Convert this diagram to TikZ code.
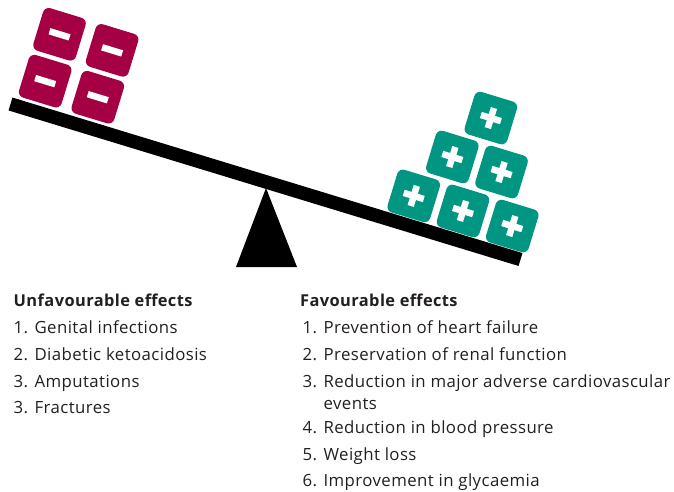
\documentclass[tikz,border=0pt]{standalone}
\usepackage{fontspec}
\setmainfont[LetterSpace=2.5]{Open Sans}
\usetikzlibrary{calc}
\definecolor{minusred}{RGB}{166,0,68}
\definecolor{plusgreen}{RGB}{0,150,130}
\definecolor{inktext}{RGB}{35,31,32}
% white signs set inside the tiles
\newcommand\minussign{\rule{21pt}{6.5pt}}
\newcommand\plussign{\makebox[21pt][l]{\rlap{\rule[7.25pt]{21pt}{6.5pt}}\hspace*{7.25pt}\rule{6.5pt}{21pt}}}
\begin{document}
\begin{tikzpicture}[x=1pt,y=-1pt,
  tile/.style={rectangle, rounded corners=6pt, minimum size=44.5pt, inner sep=0pt, text=white},
  minustile/.style={tile, fill=minusred},
  plustile/.style={tile, fill=plusgreen},
  heading/.style={anchor=base west, inner sep=0pt, font=\fontsize{16.4}{19}\selectfont\bfseries, text=inktext},
  item/.style={anchor=base west, inner sep=0pt, font=\fontsize{16.8}{20}\selectfont, text=inktext}]
\useasboundingbox (0,0) rectangle (674,491);

% the see-saw: tilted beam on a triangular fulcrum
\coordinate (beamL) at (10.5,104);
\coordinate (beamR) at (520.5,259.5);
\draw[line width=13.5pt] (beamL) -- (beamR);
\coordinate (apex) at (266,188);
\coordinate (baseL) at (236,267);
\coordinate (baseR) at (297,267);
\fill (apex) -- (baseR) -- (baseL) -- cycle;

% tiles resting on the beam, in the beam's own frame
\begin{scope}[shift={(beamL)}, rotate=-17, transform shape]
  \node[minustile] (m1) at (26.5,-32) {\minussign};
  \node[minustile] (m2) at (81.5,-32) {\minussign};
  \node[minustile] (m3) at (26.5,-81) {\minussign};
  \node[minustile] (m4) at (81.5,-81) {\minussign};
  \node[plustile] (p1) at (412.5,-30) {\plussign};
  \node[plustile] (p2) at (464,-30) {\plussign};
  \node[plustile] (p3) at (515.5,-30) {\plussign};
  \node[plustile] (p4) at (438,-78.5) {\plussign};
  \node[plustile] (p5) at (489.5,-78.5) {\plussign};
  \node[plustile] (p6) at (463.5,-127) {\plussign};
\end{scope}

% lists of effects
\node[heading] (uh) at (13.5,306.5) {Unfavourable effects};
\node[item] (u1) at (13.5,333.3) {1. Genital infections};
\node[item] (u2) at (13.5,360.5) {2. Diabetic ketoacidosis};
\node[item] (u3) at (13.5,387.5) {3. Amputations};
\node[item] (u4) at (13.5,413.5) {3. Fractures};

\node[heading] (fh) at (300,306) {Favourable effects};
\node[item] (f1) at (302.5,333) {1. Prevention of heart failure};
\node[item] (f2) at (302.5,360.5) {2. Preservation of renal function};
\node[item] (f3) at (302.5,387.5) {3. Reduction in major adverse cardiovascular};
\node[item] (f3b) at (302.5,409.5) {\phantom{3. }events};
\node[item] (f4) at (302.5,433.5) {4. Reduction in blood pressure};
\node[item] (f5) at (302.5,460) {5. Weight loss};
\node[item] (f6) at (302.5,486.5) {6. Improvement in glycaemia};
\end{tikzpicture}
\end{document}
